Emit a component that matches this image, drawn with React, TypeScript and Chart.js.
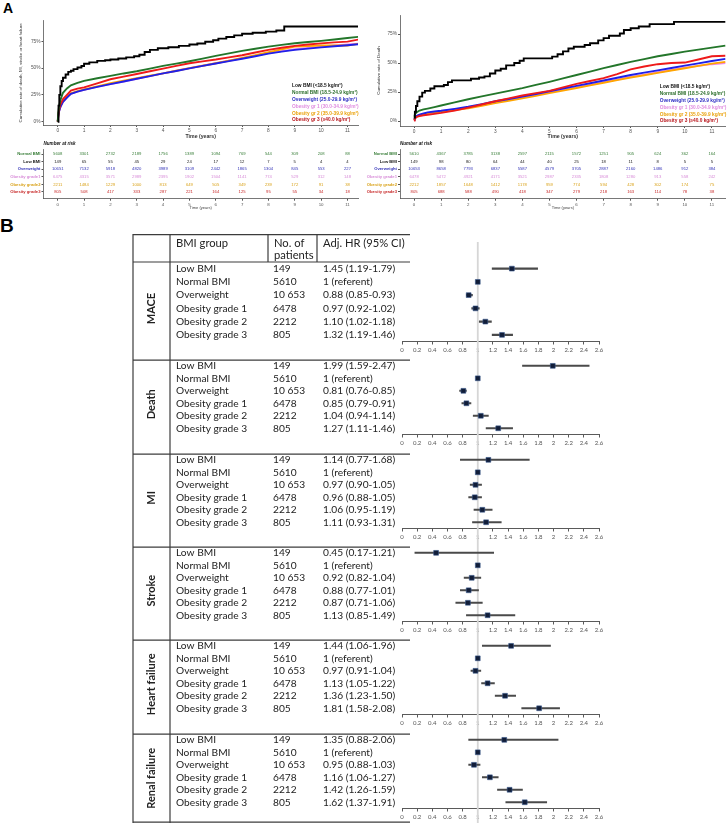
import React, { useEffect, useRef } from 'react';
import { Chart, registerables } from 'chart.js';

Chart.register(...registerables);

const SANS = '"Liberation Sans", Arial, sans-serif';
const TABLE_FONT = 'Lato, "Open Sans", sans-serif';

// ---------- Panel A: cumulative incidence by BMI group ----------
const kmGroups = [
  'Low BMI (<18.5 kg/m²)',
  'Normal BMI (18.5-24.9 kg/m²)',
  'Overweight (25.0-29.9 kg/m²)',
  'Obesity gr 1 (30.0-34.9 kg/m²)',
  'Obesity gr 2 (35.0-39.9 kg/m²)',
  'Obesity gr 3 (≥40.0 kg/m²)',
];
const lineColors = ['#000000', '#23762a', '#2020e8', '#ee86ee', '#ffa500', '#ee1a1a'];
const legendColors = ['#111111', '#2c6e2c', '#2e2ec4', '#e08ce0', '#eaa20c', '#b8151b'];
// lower value is painted on top
const drawOrder = [0, 1, 3, 5, 4, 2];

const yearTicks = [0, 1, 2, 3, 4, 5, 6, 7, 8, 9, 10, 11];
const percentTicks = [0, 25, 50, 75];

// common time grid (years) for the large groups
const kmTimes = [0, 0.02, 0.05, 0.1, 0.2, 0.35, 0.5, 0.75, 1, 1.5, 2, 2.5, 3, 3.5, 4, 4.5, 5, 5.5, 6, 6.5, 7, 7.5, 8, 8.5, 9, 9.5, 10, 10.5, 11, 11.5];

// MACE (death, MI, stroke or heart failure), %
const maceLowTimes = [0, 0.03, 0.06, 0.1, 0.15, 0.2, 0.3, 0.4, 0.5, 0.6, 0.75, 0.9, 1.0, 1.2, 1.5, 1.8, 2.0, 2.3, 2.6, 2.9, 3.1, 3.3, 3.5, 3.8, 4.2, 4.6, 5.0, 5.3, 5.6, 5.9, 6.1, 6.4, 6.7, 7.0, 7.4, 7.9, 8.3, 8.6, 11.5];
const maceLowValues = [0, 15, 25, 33, 38, 41, 44, 46.5, 47.5, 49, 50.5, 52, 54, 55.3, 56.7, 57.3, 58, 59, 60, 61, 62.5, 65, 67, 68.5, 69.5, 70.7, 72, 73, 74.5, 76, 77.5, 79, 80.5, 82, 83, 84, 85, 88.8, 88.8];
const maceNormal = [0, 8, 14, 20, 27, 31, 34, 36.2, 38, 40.5, 42.7, 45, 47, 49.5, 52, 54.2, 56.4, 58.8, 61.4, 63.7, 66, 68, 70, 71.6, 73.2, 74.3, 75.4, 76.7, 78, 79.4];
const maceOverweight = [0, 5, 9.5, 13.5, 18.5, 22.5, 26, 28, 29.6, 32.4, 35, 37.5, 40, 42.5, 45, 47.3, 49.7, 52, 54.3, 56.5, 58.7, 61, 63.5, 65.3, 67, 68.2, 69.3, 70.3, 71.3, 72.5];
const maceObese1 = [0, 5, 9.5, 13.5, 18.5, 22.5, 26, 28, 29.6, 32.4, 35, 37.5, 40, 42.5, 45, 47.5, 50, 52.2, 54.5, 56.8, 59, 61.5, 64, 65.8, 67.6, 68.8, 70, 71, 72, 73];
const maceObese2 = [0, 5, 10, 14, 19, 23, 26.5, 28.5, 30, 33, 35.8, 38.2, 40.5, 42.8, 45, 47.5, 50, 52.2, 54.5, 57, 59.5, 62, 64.8, 67.5, 70, 70.5, 71, 71, 71, 73];
const maceObese3 = [0, 6, 11, 16, 21, 25, 29, 30.8, 32, 35.8, 39.6, 42, 44.5, 47, 49.5, 52, 54.5, 56.3, 58, 60, 62, 64.5, 67, 69, 70.7, 72, 73, 74, 74.7, 77];

// all-cause death, %
const deathLowTimes = [0, 0.03, 0.07, 0.12, 0.2, 0.3, 0.4, 0.6, 0.75, 1.1, 1.25, 1.4, 2.1, 2.4, 2.6, 2.8, 3.0, 3.2, 3.4, 3.7, 3.9, 4.05, 5.1, 5.3, 5.5, 5.7, 5.9, 6.3, 6.5, 6.8, 7.0, 7.2, 7.6, 7.75, 8.0, 8.3, 8.7, 9.6, 11.5];
const deathLowValues = [3, 8, 13, 17, 21, 24.5, 26, 28, 30, 31, 33.5, 35, 36.5, 37.5, 38.5, 41, 43.5, 45, 48, 50, 52, 54, 55.5, 57.5, 60, 62.5, 64, 65.5, 67, 69.5, 71.5, 73.5, 75.5, 78.5, 80, 81.5, 83.5, 85.5, 85.5];
const deathNormal = [3, 5, 6.5, 7.5, 9, 10, 10.7, 12, 13.4, 16.1, 18.8, 21.2, 23.6, 26, 28.4, 31.1, 33.8, 36.7, 39.7, 42.6, 45.6, 48.3, 51, 53.4, 55.8, 57.8, 59.8, 61.5, 63.3, 65];
const deathOverweight = [1, 2.5, 3.5, 4.5, 5.5, 6.5, 7.5, 8.2, 8.8, 10.5, 12.3, 14.6, 17, 19, 21, 23.3, 25.7, 28, 30.3, 32.6, 34.9, 37.3, 39.7, 41.7, 43.7, 45.7, 47.7, 49.7, 51.7, 53.6];
const deathObese1 = [1, 2.3, 3.3, 4.2, 5.2, 6, 6.8, 7.6, 8.5, 10, 11.5, 13.7, 16, 18.2, 20.5, 22.7, 25, 27, 29, 31.2, 33.5, 35.7, 38, 40, 42, 44, 46, 47.5, 49, 50];
const deathObese2 = [1, 2.3, 3.3, 4, 5, 6, 6.8, 7.4, 8, 9.5, 11, 13.2, 15.5, 17.5, 19.5, 21.7, 24, 26.2, 28.5, 30.7, 33, 35.2, 37.5, 39.5, 41.5, 43.5, 45.5, 47.5, 49.5, 51];
const deathObese3 = [0.5, 1.5, 2.5, 3.5, 4.3, 5, 5.4, 6.2, 7, 9, 11.5, 14.2, 17, 19.5, 22, 24, 26, 29, 32, 34.5, 37, 40.5, 44.5, 47, 49, 50, 50.4, 53, 55.8, 56.3];

// number at risk
const riskLabels = ['Normal BMI', 'Low BMI', 'Overweight', 'Obesity grade1', 'Obesity grade2', 'Obesity grade3'];
const riskColors = ['#3a7f3a', '#222222', '#3333b8', '#d88cd8', '#d9a21a', '#c82a2a'];
const maceRiskNormal = [5608, 3301, 2732, 2189, 1756, 1389, 1094, 769, 544, 309, 208, 88];
const maceRiskLow = [149, 65, 55, 45, 29, 24, 17, 12, 7, 5, 4, 4];
const maceRiskOverweight = [10651, 7132, 5918, 4820, 3989, 3109, 2442, 1865, 1304, 845, 553, 227];
const maceRiskObese1 = [6475, 4315, 3571, 2989, 2395, 1902, 1504, 1141, 774, 529, 312, 148];
const maceRiskObese2 = [2211, 1484, 1229, 1000, 813, 649, 505, 349, 239, 172, 91, 38];
const maceRiskObese3 = [805, 508, 417, 333, 287, 221, 164, 125, 95, 55, 34, 18];
const deathRiskNormal = [5610, 4367, 3785, 3138, 2597, 2115, 1572, 1251, 905, 624, 362, 164];
const deathRiskLow = [149, 98, 80, 64, 44, 40, 25, 18, 11, 8, 5, 5];
const deathRiskOverweight = [10653, 8658, 7793, 6837, 5587, 4579, 3705, 2887, 2160, 1486, 912, 384];
const deathRiskObese1 = [6478, 5472, 4921, 4171, 3521, 2987, 2335, 1808, 1280, 913, 558, 242];
const deathRiskObese2 = [2212, 1857, 1648, 1412, 1178, 959, 774, 594, 428, 302, 174, 75];
const deathRiskObese3 = [805, 688, 588, 490, 418, 347, 279, 218, 163, 114, 78, 38];

// ---------- Panel B: adjusted hazard ratios ----------
const outcomes = ['MACE', 'Death', 'MI', 'Stroke', 'Heart failure', 'Renal failure'];
const bmiGroups = ['Low BMI', 'Normal BMI', 'Overweight', 'Obesity grade 1', 'Obesity grade 2', 'Obesity grade 3'];
const patientCounts = ['149', '5610', '10 653', '6478', '2212', '805'];
const hrTicks = [0, 0.2, 0.4, 0.6, 0.8, 1, 1.2, 1.4, 1.6, 1.8, 2, 2.2, 2.4, 2.6];

const maceHR = [1.45, 1, 0.88, 0.97, 1.10, 1.32];
const maceLo = [1.19, 1, 0.85, 0.92, 1.02, 1.19];
const maceHi = [1.79, 1, 0.93, 1.02, 1.18, 1.46];
const deathHR = [1.99, 1, 0.81, 0.85, 1.04, 1.27];
const deathLo = [1.59, 1, 0.76, 0.79, 0.94, 1.11];
const deathHi = [2.47, 1, 0.85, 0.91, 1.14, 1.46];
const miHR = [1.14, 1, 0.97, 0.96, 1.06, 1.11];
const miLo = [0.77, 1, 0.90, 0.88, 0.95, 0.93];
const miHi = [1.68, 1, 1.05, 1.05, 1.19, 1.31];
const strokeHR = [0.45, 1, 0.92, 0.88, 0.87, 1.13];
const strokeLo = [0.17, 1, 0.82, 0.77, 0.71, 0.85];
const strokeHi = [1.21, 1, 1.04, 1.01, 1.06, 1.49];
const hfHR = [1.44, 1, 0.97, 1.13, 1.36, 1.81];
const hfLo = [1.06, 1, 0.91, 1.05, 1.23, 1.58];
const hfHi = [1.96, 1, 1.04, 1.22, 1.50, 2.08];
const renalHR = [1.35, 1, 0.95, 1.16, 1.42, 1.62];
const renalLo = [0.88, 1, 0.88, 1.06, 1.26, 1.37];
const renalHi = [2.06, 1, 1.03, 1.27, 1.59, 1.91];

const forestSeries = [
  { hr: maceHR, lo: maceLo, hi: maceHi },
  { hr: deathHR, lo: deathLo, hi: deathHi },
  { hr: miHR, lo: miLo, hi: miHi },
  { hr: strokeHR, lo: strokeLo, hi: strokeHi },
  { hr: hfHR, lo: hfLo, hi: hfHi },
  { hr: renalHR, lo: renalLo, hi: renalHi },
];

const hrText = (hr: number, lo: number, hi: number) =>
  hr === 1 && lo === 1 && hi === 1
    ? '1 (referent)'
    : `${hr.toFixed(2)} (${lo.toFixed(2)}-${hi.toFixed(2)})`;

// ---------- chart helpers ----------
function ChartBox(props: { left: number; top: number; width: number; height: number; make: () => any }) {
  const ref = useRef<HTMLCanvasElement>(null);
  useEffect(() => {
    const chart = new Chart(ref.current as HTMLCanvasElement, props.make());
    return () => chart.destroy();
  }, []);
  const { left, top, width, height } = props;
  return (
    <div style={{ position: 'absolute', left, top, width, height }}>
      <canvas ref={ref} width={width} height={height} style={{ width, height, display: 'block' }} />
    </div>
  );
}

const kmLegend = {
  id: 'kmLegend',
  afterDraw(chart: any) {
    const { ctx, chartArea } = chart;
    ctx.save();
    ctx.font = `bold 4.8px ${SANS}`;
    ctx.textBaseline = 'middle';
    ctx.textAlign = 'left';
    chart.data.datasets.forEach((ds: any, i: number) => {
      ctx.fillStyle = ds.legendColor;
      ctx.fillText(ds.label, chartArea.right - 66, chartArea.bottom - 39 + i * 6.8);
    });
    ctx.restore();
  },
};

type KmOpts = {
  yTitle: string;
  xMin: number; xMax: number; yMin: number; yMax: number;
  padLeft: number; padTop: number; padRight: number;
  yAxisW: number; xAxisH: number;
};

function kmConfig(curves: { times: number[]; values: number[]; stepped: boolean }[], o: KmOpts) {
  return {
    type: 'line',
    data: {
      datasets: curves.map((c, i) => ({
        label: kmGroups[i],
        legendColor: legendColors[i],
        data: c.times.map((t, k) => ({ x: t, y: c.values[k] })),
        borderColor: lineColors[i],
        borderWidth: 1.9,
        pointRadius: 0,
        fill: false,
        tension: 0,
        stepped: c.stepped,
        order: drawOrder[i],
      })),
    },
    options: {
      responsive: false,
      animation: false,
      layout: { padding: { left: o.padLeft, top: o.padTop, right: o.padRight, bottom: 0 } },
      plugins: { legend: { display: false }, tooltip: { enabled: false } },
      scales: {
        x: {
          type: 'linear', min: o.xMin, max: o.xMax,
          afterBuildTicks: (s: any) => { s.ticks = yearTicks.map((v) => ({ value: v })); },
          afterFit: (s: any) => { s.height = o.xAxisH; },
          ticks: { font: { size: 4.8, family: SANS }, color: '#555', padding: 1, maxRotation: 0, autoSkip: false },
          grid: { drawOnChartArea: false, drawTicks: true, tickLength: 2, color: '#555' },
          border: { color: '#555', width: 0.8 },
          title: { display: true, text: 'Time (years)', font: { size: 5.2, weight: 'bold', family: SANS }, color: '#333', padding: { top: 0, bottom: 2 } },
        },
        y: {
          type: 'linear', min: o.yMin, max: o.yMax,
          afterBuildTicks: (s: any) => { s.ticks = percentTicks.map((v) => ({ value: v })); },
          afterFit: (s: any) => { s.width = o.yAxisW; },
          ticks: { font: { size: 4.8, family: SANS }, color: '#555', padding: 1, autoSkip: false, callback: (v: any) => `${v}%` },
          grid: { drawOnChartArea: false, drawTicks: true, tickLength: 2, color: '#555' },
          border: { color: '#555', width: 0.8 },
          title: { display: true, text: o.yTitle, font: { size: 4.4, family: SANS }, color: '#333', padding: { top: 0, bottom: 0 } },
        },
      },
    },
    plugins: [kmLegend],
  };
}

function riskConfig(rows: number[][], o: { xMin: number; xMax: number; padRight: number; yAxisW: number }) {
  const riskText = {
    id: 'riskText',
    afterDraw(chart: any) {
      const { ctx, chartArea, scales } = chart;
      ctx.save();
      ctx.font = `italic bold 4.6px ${SANS}`;
      ctx.fillStyle = '#111';
      ctx.textBaseline = 'middle';
      ctx.textAlign = 'left';
      ctx.fillText('Number at risk', chartArea.left, 6);
      ctx.font = `4.2px ${SANS}`;
      ctx.textAlign = 'center';
      rows.forEach((row, r) => {
        ctx.fillStyle = riskColors[r];
        row.forEach((n, k) => {
          ctx.fillText(String(n), scales.x.getPixelForValue(yearTicks[k]), scales.y.getPixelForValue(r));
        });
      });
      ctx.restore();
    },
  };
  return {
    type: 'line',
    data: { datasets: [] },
    options: {
      responsive: false,
      animation: false,
      layout: { padding: { left: 0, top: 11.7, right: o.padRight, bottom: 0 } },
      plugins: { legend: { display: false }, tooltip: { enabled: false } },
      scales: {
        x: {
          type: 'linear', min: o.xMin, max: o.xMax,
          afterBuildTicks: (s: any) => { s.ticks = yearTicks.map((v) => ({ value: v })); },
          afterFit: (s: any) => { s.height = 13.3; },
          ticks: { font: { size: 4.4, family: SANS }, color: '#555', padding: 1, maxRotation: 0, autoSkip: false },
          grid: { drawOnChartArea: false, drawTicks: true, tickLength: 2, color: '#555' },
          border: { color: '#555', width: 0.8 },
          title: { display: true, text: 'Time (years)', font: { size: 4, family: SANS }, color: '#444', padding: { top: 0, bottom: 2 } },
        },
        y: {
          type: 'linear', reverse: true, min: -0.6, max: 5.9,
          afterBuildTicks: (s: any) => { s.ticks = riskLabels.map((_, i) => ({ value: i })); },
          afterFit: (s: any) => { s.width = o.yAxisW; },
          ticks: {
            font: { size: 4.2, weight: 'bold', family: SANS },
            color: (c: any) => riskColors[c.index],
            padding: 1, autoSkip: false,
            callback: (v: any) => riskLabels[v],
          },
          grid: { drawOnChartArea: false, drawTicks: true, tickLength: 2, color: '#555' },
          border: { color: '#555', width: 0.8 },
        },
      },
    },
    plugins: [riskText],
  };
}

// table geometry (canvas x, canvas starts at page x 130)
const COL_LEFT = 3;
const COL_TITLE = 40;
const COL_PAT = 138;
const COL_HR = 187;
const TABLE_RIGHT = 280;

function forestConfig(s: number, o: { height: number; padTop: number; header: boolean; last: boolean }) {
  const { hr, lo, hi } = forestSeries[s];
  const refLine = {
    id: 'refLine',
    beforeDatasetsDraw(chart: any) {
      const { ctx, scales } = chart;
      const x = scales.x.getPixelForValue(1);
      ctx.save();
      ctx.strokeStyle = '#d6d6d6';
      ctx.lineWidth = 1.8;
      ctx.beginPath();
      ctx.moveTo(x, o.header ? 8 : 0);
      ctx.lineTo(x, chart.height);
      ctx.stroke();
      ctx.restore();
    },
  };
  const table = {
    id: 'hrTable',
    afterDraw(chart: any) {
      const { ctx, chartArea, scales } = chart;
      const H = chart.height;
      ctx.save();
      ctx.strokeStyle = '#3c3c3c';
      ctx.lineWidth = 1.2;
      const hline = (y: number) => { ctx.beginPath(); ctx.moveTo(COL_LEFT, y); ctx.lineTo(TABLE_RIGHT, y); ctx.stroke(); };
      const vline = (x: number, y0: number, y1: number) => { ctx.beginPath(); ctx.moveTo(x, y0); ctx.lineTo(x, y1); ctx.stroke(); };
      if (o.header) {
        hline(0.6);
        vline(COL_PAT, 0, chartArea.top);
        vline(COL_HR, 0, chartArea.top);
      }
      hline(chartArea.top + (o.header ? 0 : 0.6));
      if (o.last) hline(H - 0.8);
      vline(COL_LEFT, 0, H);
      vline(COL_TITLE, 0, H);

      ctx.fillStyle = '#222';
      ctx.textBaseline = 'middle';
      ctx.textAlign = 'left';
      if (o.header) {
        ctx.font = `11.2px ${TABLE_FONT}`;
        ctx.fillText('BMI group', 46, 9.5);
        ctx.fillText('No. of', COL_PAT + 6, 9.5);
        ctx.fillText('patients', COL_PAT + 6, 21.5);
        ctx.fillText('Adj. HR (95% CI)', COL_HR + 6, 9.5);
      }
      ctx.font = `10.2px ${TABLE_FONT}`;
      bmiGroups.forEach((g, i) => {
        const y = scales.y.getPixelForValue(i);
        ctx.fillText(g, 46, y);
        ctx.fillText(patientCounts[i], COL_PAT + 5, y);
        ctx.fillText(hrText(hr[i], lo[i], hi[i]), COL_HR + 6, y);
      });
      // rotated outcome name
      ctx.font = `bold 11px ${TABLE_FONT}`;
      ctx.textAlign = 'center';
      ctx.translate((COL_LEFT + COL_TITLE) / 2, (chartArea.top + H) / 2);
      ctx.rotate(-Math.PI / 2);
      ctx.fillText(outcomes[s], 0, 0);
      ctx.restore();
    },
  };
  return {
    type: 'bar',
    data: {
      labels: bmiGroups,
      datasets: [
        {
          type: 'line',
          indexAxis: 'y',
          data: hr,
          showLine: false,
          pointStyle: 'rect',
          pointRadius: 3.4,
          pointBackgroundColor: '#111d38',
          pointBorderColor: '#35558a',
          pointBorderWidth: 0.6,
          order: 0,
        },
        {
          type: 'bar',
          indexAxis: 'y',
          data: lo.map((l, i) => [l, hi[i]]),
          backgroundColor: '#4a4a4a',
          barThickness: 1.4,
          order: 1,
        },
      ],
    },
    options: {
      indexAxis: 'y',
      responsive: false,
      animation: false,
      layout: { padding: { left: 272, right: 13, top: o.padTop, bottom: 0 } },
      plugins: { legend: { display: false }, tooltip: { enabled: false } },
      scales: {
        x: {
          type: 'linear', min: 0, max: 2.6, position: 'bottom',
          afterBuildTicks: (sc: any) => { sc.ticks = hrTicks.map((v) => ({ value: v })); },
          afterFit: (sc: any) => { sc.height = o.height - o.padTop - 79.5; },
          ticks: {
            font: { size: 6, family: TABLE_FONT }, color: '#555', padding: 2, maxRotation: 0, autoSkip: false,
            callback: (v: any) => String(Number(Number(v).toFixed(1))),
          },
          grid: { drawOnChartArea: false, drawTicks: true, tickLength: 3, color: '#5a5a5a' },
          border: { color: '#5a5a5a', width: 1 },
        },
        y: { type: 'category', display: false, offset: true },
      },
    },
    plugins: [refLine, table],
  };
}

const sectionTops = [262, 355, 449, 542, 635, 729];
const tableBottom = 823;

export default function App() {
  const maceCurves = [
    { times: maceLowTimes, values: maceLowValues, stepped: true },
    { times: kmTimes, values: maceNormal, stepped: false },
    { times: kmTimes, values: maceOverweight, stepped: false },
    { times: kmTimes, values: maceObese1, stepped: false },
    { times: kmTimes, values: maceObese2, stepped: false },
    { times: kmTimes, values: maceObese3, stepped: false },
  ];
  const deathCurves = [
    { times: deathLowTimes, values: deathLowValues, stepped: true },
    { times: kmTimes, values: deathNormal, stepped: false },
    { times: kmTimes, values: deathOverweight, stepped: false },
    { times: kmTimes, values: deathObese1, stepped: false },
    { times: kmTimes, values: deathObese2, stepped: false },
    { times: kmTimes, values: deathObese3, stepped: false },
  ];
  const maceRisk = [maceRiskNormal, maceRiskLow, maceRiskOverweight, maceRiskObese1, maceRiskObese2, maceRiskObese3];
  const deathRisk = [deathRiskNormal, deathRiskLow, deathRiskOverweight, deathRiskObese1, deathRiskObese2, deathRiskObese3];

  return (
    <div style={{ position: 'absolute', left: 0, top: 0, width: 728, height: 826, background: '#fff', overflow: 'hidden' }}>
      <div style={{ position: 'absolute', left: 3, top: 0, font: `bold 14px ${SANS}`, color: '#000' }}>A</div>
      <div style={{ position: 'absolute', left: 0, top: 215, font: `bold 19px ${SANS}`, color: '#000' }}>B</div>

      <ChartBox left={0} top={0} width={364} height={142} make={() => kmConfig(maceCurves, {
        yTitle: 'Cumulative rate of death, MI, stroke or heart failure',
        xMin: -0.54, xMax: 11.4, yMin: -3.1, yMax: 94.2,
        padLeft: 18, padTop: 20.7, padRight: 6, yAxisW: 25.5, xAxisH: 17,
      })} />
      <ChartBox left={364} top={0} width={364} height={142} make={() => kmConfig(deathCurves, {
        yTitle: 'Cumulative rate of Death',
        xMin: -0.52, xMax: 11.51, yMin: -4.3, yMax: 91.4,
        padLeft: 12, padTop: 15, padRight: 2.3, yAxisW: 24, xAxisH: 16,
      })} />
      <ChartBox left={0} top={138} width={364} height={74} make={() => riskConfig(maceRisk, {
        xMin: -0.54, xMax: 11.4, padRight: 6, yAxisW: 43.5,
      })} />
      <ChartBox left={364} top={138} width={364} height={74} make={() => riskConfig(deathRisk, {
        xMin: -0.52, xMax: 11.51, padRight: 2.3, yAxisW: 36,
      })} />

      {outcomes.map((name, s) => {
        const top = s === 0 ? 234 : sectionTops[s];
        const bottom = s < 5 ? sectionTops[s + 1] : tableBottom;
        const height = bottom - top;
        return (
          <ChartBox key={name} left={130} top={top} width={482} height={height}
            make={() => forestConfig(s, { height, padTop: s === 0 ? 28 : 0, header: s === 0, last: s === 5 })} />
        );
      })}
    </div>
  );
}
